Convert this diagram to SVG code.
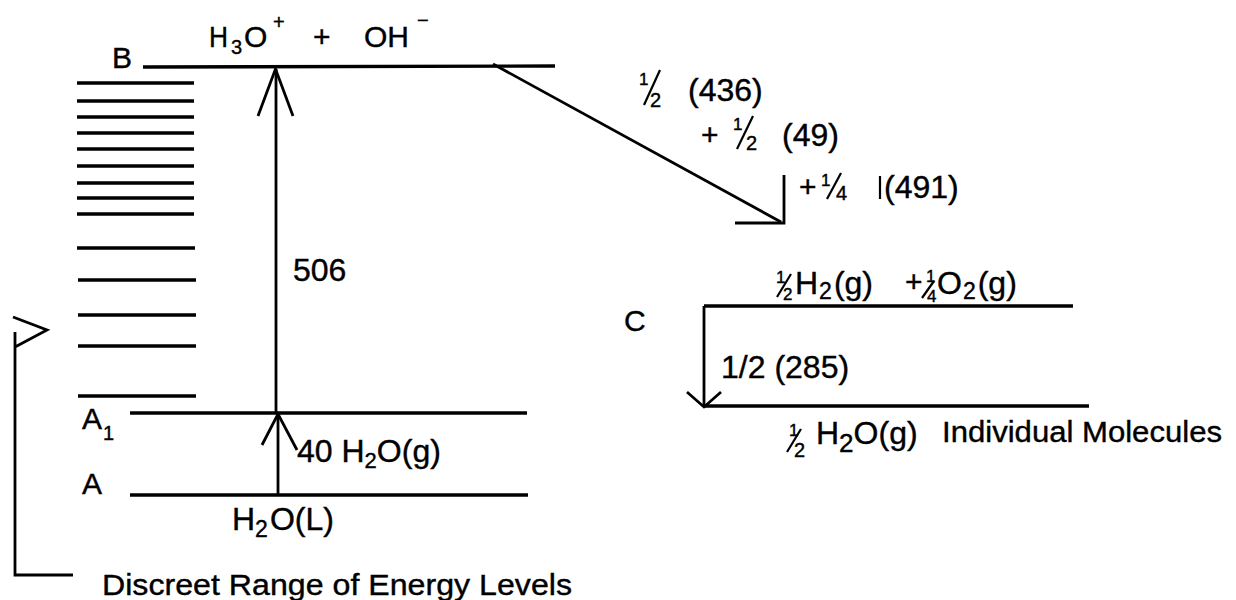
<svg xmlns="http://www.w3.org/2000/svg" width="1236" height="600" viewBox="0 0 1236 600">
<style>
.lv{stroke:#000;stroke-width:3.4;fill:none;stroke-linecap:butt}
.dl{stroke:#000;stroke-width:3.6;fill:none}
.ar{stroke:#000;stroke-width:2.8;fill:none;stroke-linejoin:miter}
.fr{stroke:#000;stroke-width:2.2}
text{font-family:"Liberation Sans",Arial,sans-serif;fill:#000;stroke:#000;stroke-width:0.4}
.t{font-size:30px}
.b{font-size:32px}
.s{font-size:20px}
.f{font-size:17px}
</style>
<rect width="1236" height="600" fill="#fff"/>

<g id="discrete-levels">
<path class="dl" d="M77 83H194M77 101H194M77 117H194M77 133H194M77 149H194M77 166H194M77 183H194M77 198H194M77 214H194M77 248H195M78 280H196M78 315H196M78 346H196M78 396H196"/>
</g>

<g id="level-B">
<line class="lv" x1="143" y1="67" x2="555" y2="66"/>
<text class="t" x="112" y="68">B</text>
<text class="t" x="209" y="47" textLength="19" lengthAdjust="spacingAndGlyphs">H</text>
<text class="s" x="231" y="54">3</text>
<text class="t" x="244" y="47">O</text>
<text class="s" x="273" y="29">+</text>
<text class="t" x="313" y="47">+</text>
<text class="t" x="364" y="47">OH</text>
<text class="s" x="417" y="27">−</text>
</g>

<g id="level-A1">
<line class="lv" x1="130" y1="413" x2="527" y2="413"/>
<text class="t" x="82" y="429">A</text>
<text class="s" x="103" y="440">1</text>
</g>

<g id="level-A">
<line class="lv" x1="130" y1="495" x2="528" y2="495"/>
<text class="t" x="82" y="494">A</text>
<text class="b" x="232" y="530">H<tspan font-size="23" dy="7">2</tspan><tspan dy="-7" dx="2">O(L)</tspan></text>
</g>

<g id="level-C-top">
<line class="lv" x1="704" y1="306" x2="1073" y2="306"/>
<text class="t" x="624" y="331">C</text>
<text class="f" x="776" y="283">1</text>
<line class="fr" x1="777" y1="297" x2="791" y2="274"/>
<text class="f" x="783" y="300">2</text>
<text class="b" x="795" y="294">H<tspan font-size="23" dy="5" dx="1">2</tspan><tspan dy="-5" dx="2">(g)</tspan></text>
<text class="t" x="905" y="292">+</text>
<text class="f" x="926" y="282">1</text>
<line class="fr" x1="922" y1="298" x2="934" y2="281"/>
<text class="f" x="927" y="302">4</text>
<text class="b" x="937" y="294">O<tspan font-size="23" dy="5" dx="1">2</tspan><tspan dy="-5" dx="2">(g)</tspan></text>
</g>

<g id="level-C-bottom">
<line class="lv" x1="704" y1="406" x2="1089" y2="406"/>
<text class="f" x="789" y="436">1</text>
<line class="fr" x1="787" y1="452" x2="801" y2="429"/>
<text class="s" x="794" y="457" font-size="21">2</text>
<text class="b" x="816" y="444">H<tspan font-size="26" dy="8">2</tspan><tspan dy="-8">O(g)</tspan></text>
<text class="t" x="942" y="442" textLength="280" lengthAdjust="spacingAndGlyphs">Individual Molecules</text>
</g>

<g id="connectors">
<path class="ar" d="M276 413V69"/>
<path class="ar" d="M258 116L275.5 69L293 116"/>
<text class="b" x="293" y="281">506</text>
<path class="ar" d="M278 495V414"/>
<path class="ar" d="M262 445L278 414L297 450"/>
<text class="b" x="297" y="462">40 H<tspan font-size="22" dy="6">2</tspan><tspan dy="-6">O(g)</tspan></text>
<path class="ar" d="M493 64L781 222"/>
<path class="ar" d="M784 175V223H735"/>
<text class="f" x="639" y="85">1</text>
<line class="fr" x1="644" y1="105" x2="660" y2="70"/>
<text class="s" x="650" y="107" font-size="25">2</text>
<text class="b" x="688" y="101">(436)</text>
<text class="t" x="701" y="145">+</text>
<text class="f" x="733" y="130">1</text>
<line class="fr" x1="737" y1="149" x2="753" y2="116"/>
<text class="s" x="746" y="150" font-size="25">2</text>
<text class="b" x="782" y="146">(49)</text>
<text class="t" x="799" y="197">+</text>
<text class="f" x="821" y="186">1</text>
<line class="fr" x1="827" y1="199" x2="841" y2="173"/>
<text class="s" x="836" y="200" font-size="22">4</text>
<line class="fr" x1="880" y1="176" x2="880" y2="199"/>
<text class="b" x="884" y="198">(491)</text>
<path class="ar" d="M704 306V406"/>
<path class="ar" d="M687 392L704 407L721 392"/>
<text class="b" x="721" y="378">1/2 (285)</text>
<path class="ar" d="M13 317L47 330L15 347M15 332V575H73"/>
<text class="t" x="102" y="595" textLength="470" lengthAdjust="spacingAndGlyphs">Discreet Range of Energy Levels</text>
</g>
</svg>
